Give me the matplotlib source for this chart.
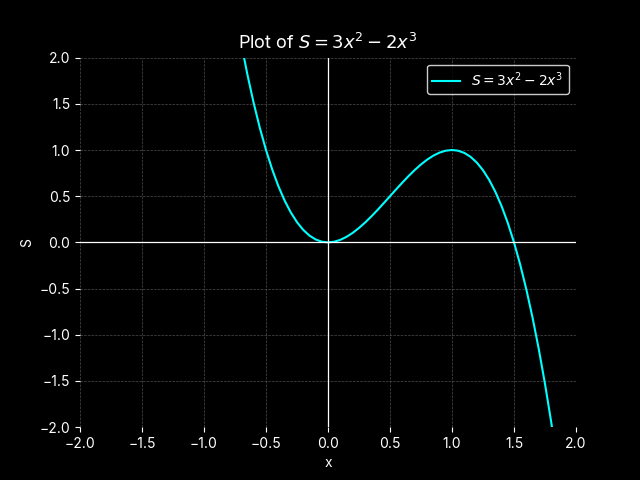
import matplotlib
matplotlib.use("Agg")
import matplotlib.pyplot as plt

plt.style.use("dark_background")
plt.rcParams['font.family'] = ['Inter', 'DejaVu Sans']
plt.rcParams['mathtext.fontset'] = 'dejavusans'

x_vals = [-0.75, -0.70, -0.65, -0.60, -0.55, -0.50, -0.45, -0.40, -0.35, -0.30,
          -0.25, -0.20, -0.15, -0.10, -0.05, 0.00, 0.05, 0.10, 0.15, 0.20,
          0.25, 0.30, 0.35, 0.40, 0.45, 0.50, 0.55, 0.60, 0.65, 0.70,
          0.75, 0.80, 0.85, 0.90, 0.95, 1.00, 1.05, 1.10, 1.15, 1.20,
          1.25, 1.30, 1.35, 1.40, 1.45, 1.50, 1.55, 1.60, 1.65, 1.70,
          1.75, 1.80, 1.85]
s_vals = [2.53125, 2.156, 1.81675, 1.512, 1.24025, 1.0, 0.78975, 0.608, 0.45325, 0.324,
          0.21875, 0.136, 0.07425, 0.032, 0.00775, 0.0, 0.00725, 0.028, 0.06075, 0.104,
          0.15625, 0.216, 0.28175, 0.352, 0.42525, 0.5, 0.57475, 0.648, 0.71825, 0.784,
          0.84375, 0.896, 0.93925, 0.972, 0.99275, 1.0, 0.99225, 0.968, 0.92575, 0.864,
          0.78125, 0.676, 0.54675, 0.392, 0.21025, 0.0, -0.24025, -0.512, -0.81675, -1.156,
          -1.53125, -1.944, -2.39575]

fig, ax = plt.subplots(figsize=(6.4, 4.8), dpi=100)
fig.patch.set_facecolor('black')
ax.set_facecolor('black')

ax.plot(x_vals, s_vals, color='cyan', linewidth=1.5, label=r'$S = 3x^2 - 2x^3$')
ax.axhline(0, color='white', linewidth=0.9)
ax.axvline(0, color='white', linewidth=0.9)

ax.set_xlim(-2, 2)
ax.set_ylim(-2, 2)
ax.set_title(r'Plot of $S = 3x^2 - 2x^3$', fontsize=13)
ax.set_xlabel('x')
ax.set_ylabel('S')
ax.grid(True, color='gray', linestyle='--', linewidth=0.5, alpha=0.6)
for sp in ax.spines.values():
    sp.set_visible(False)
leg = ax.legend(loc='upper right', facecolor='black', edgecolor='white')

fig.savefig('out.png', dpi=100, facecolor='black')
